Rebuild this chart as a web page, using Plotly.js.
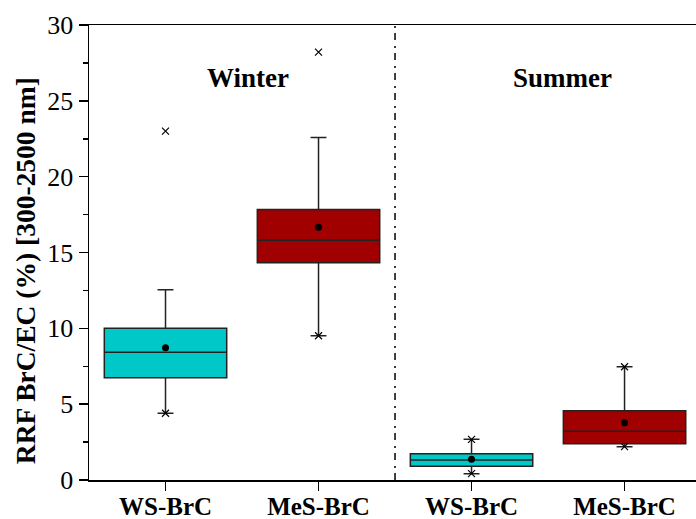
<!DOCTYPE html>
<html>
<head>
<meta charset="utf-8">
<script src="https://cdn.plot.ly/plotly-3.0.1.min.js"></script>
<style>html,body{margin:0;padding:0;background:#fff;}#chart{width:696px;height:519px;}</style>
</head>
<body>
<div id="chart"></div>
<script>
// Categories and positions
const categories = ['WS-BrC', 'MeS-BrC', 'WS-BrC', 'MeS-BrC'];
const seasons = ['Winter', 'Summer'];
// Box statistics (RRF BrC/EC %), order: WS winter, MeS winter, WS summer, MeS summer
const q1Vals = [6.74, 14.33, 0.90, 2.39];
const medianVals = [8.42, 15.80, 1.32, 3.21];
const q3Vals = [10.00, 17.84, 1.73, 4.57];
const lowerWhisker = [4.40, 9.51, 0.42, 2.20];
const upperWhisker = [12.55, 22.59, 2.68, 7.47];
const meanVals = [8.72, 16.66, 1.36, 3.78];
const p1Vals = [4.40, 9.51, 0.42, 2.20];
const p99Vals = [23.00, 28.21, 2.68, 7.47];
const yTicks = [0, 5, 10, 15, 20, 25, 30];
const yTitle = 'RRF BrC/EC (%) [300-2500 nm]';

const pos = categories.map((c, i) => i);
const cyan = '#00c8c8', red = '#a00000';
const ff = 'Liberation Serif, Times New Roman, serif';

function boxTrace(idx, color) {
  return {
    type: 'box',
    x: idx.map(i => pos[i]),
    q1: idx.map(i => q1Vals[i]),
    median: idx.map(i => medianVals[i]),
    q3: idx.map(i => q3Vals[i]),
    lowerfence: idx.map(i => lowerWhisker[i]),
    upperfence: idx.map(i => upperWhisker[i]),
    width: 0.8,
    whiskerwidth: 0.13,
    fillcolor: color,
    line: {color: '#222', width: 1.5},
    boxpoints: false,
    hoverinfo: 'skip',
    showlegend: false
  };
}

const traces = [
  boxTrace([0, 2], cyan),
  boxTrace([1, 3], red),
  {
    type: 'scatter', mode: 'markers', x: pos, y: meanVals,
    marker: {symbol: 'circle', size: 7, color: '#000'}, showlegend: false, hoverinfo: 'skip'
  },
  {
    type: 'scatter', mode: 'markers', x: pos.concat(pos), y: p1Vals.concat(p99Vals),
    marker: {symbol: 'x-thin', size: 7, line: {color: '#000', width: 1.2}}, showlegend: false, hoverinfo: 'skip'
  }
];

const layout = {
  width: 696, height: 519,
  margin: {l: 89, r: 0, t: 25, b: 39},
  paper_bgcolor: '#fff', plot_bgcolor: '#fff',
  boxmode: 'overlay',
  font: {family: ff, color: '#000', size: 25},
  xaxis: {
    range: [-0.5, 3.467],
    tickvals: pos,
    ticktext: categories.map(c => '<b>' + c + '</b>'),
    ticks: 'outside', ticklen: 9, tickwidth: 1.5, tickcolor: '#000',
    ticklabelstandoff: -6,
    showline: true, linecolor: '#000', linewidth: 1.5, mirror: true,
    showgrid: false, zeroline: false,
    tickfont: {family: ff, size: 25, color: '#000'}
  },
  yaxis: {
    range: [0, 30],
    tickvals: yTicks,
    ticks: 'outside', ticklen: 9, tickwidth: 1.5, tickcolor: '#000',
    minor: {dtick: 2.5, ticks: 'outside', ticklen: 5, tickwidth: 1.5, tickcolor: '#000', showgrid: false},
    showline: true, linecolor: '#000', linewidth: 1.5, mirror: false,
    showgrid: false, zeroline: false,
    tickfont: {family: ff, size: 26, color: '#000'}
  },
  shapes: [{
    type: 'line', xref: 'x', yref: 'paper', x0: 1.5, x1: 1.5, y0: 0, y1: 1,
    line: {color: '#000', width: 1.5, dash: '7px,5px,2px,6px'}
  }],
  annotations: [
    {x: 0.54, y: 26.5, xref: 'x', yref: 'y', text: '<b>' + seasons[0] + '</b>', showarrow: false, font: {family: ff, size: 27, color: '#000'}},
    {x: 2.595, y: 26.5, xref: 'x', yref: 'y', text: '<b>' + seasons[1] + '</b>', showarrow: false, font: {family: ff, size: 27, color: '#000'}},
    {x: (25 - 89) / (696 - 89), y: 0.459, xref: 'paper', yref: 'paper', xanchor: 'center', yanchor: 'middle',
     text: '<b>' + yTitle + '</b>', textangle: -90, showarrow: false,
     font: {family: ff, size: 27.5, color: '#000'}}
  ]
};

Plotly.newPlot('chart', traces, layout, {displayModeBar: false, staticPlot: true});
</script>
</body>
</html>
